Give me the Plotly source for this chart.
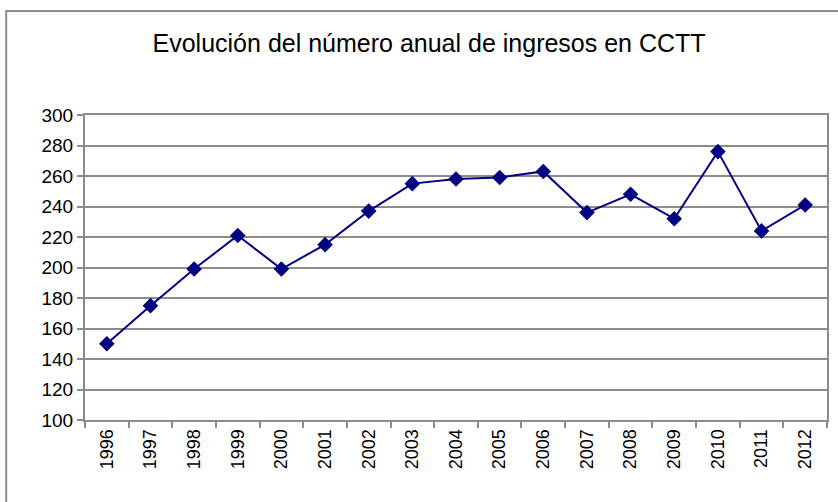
import plotly.graph_objects as go

years = ["1996", "1997", "1998", "1999", "2000", "2001", "2002", "2003", "2004",
         "2005", "2006", "2007", "2008", "2009", "2010", "2011", "2012"]
ingresos = [150, 175, 199, 221, 199, 215, 237, 255, 258, 259, 263, 236, 248, 232, 276, 224, 241]
y_ticks = [100, 120, 140, 160, 180, 200, 220, 240, 260, 280, 300]

W, H = 838, 502
L, R, T, B = 85, 9, 115, 82
pw, ph = W - L - R, H - T - B

def px(x):
    return (x - L) / pw

def py(y):
    return (H - B - y) / ph

fig = go.Figure()
fig.add_trace(go.Scatter(
    x=years, y=ingresos, mode="lines+markers",
    line=dict(color="#000080", width=2),
    marker=dict(symbol="diamond", size=12, color="#000080"),
    showlegend=False,
))

fig.update_layout(
    width=W, height=H,
    margin=dict(l=L, r=R, t=T, b=B),
    paper_bgcolor="white", plot_bgcolor="white",
    font=dict(family="Liberation Sans, Arial, sans-serif", size=16, color="black"),
    title=dict(text="Evolución del número anual de ingresos en CCTT",
               xref="paper", x=px(430), xanchor="center",
               y=1 - 43 / H, yanchor="middle",
               font=dict(size=25, color="black")),
    shapes=[dict(type="rect", xref="paper", yref="paper",
                 x0=px(6), x1=px(845), y0=py(510), y1=py(11),
                 line=dict(color="#8c8c8c", width=2), fillcolor="rgba(0,0,0,0)",
                 layer="below")],
)

fig.update_xaxes(
    type="category", tickangle=-90, tickson="boundaries",
    ticks="outside", ticklen=6, tickcolor="#8c8c8c", tickwidth=2,
    showline=True, linecolor="#8c8c8c", linewidth=2, mirror=True,
    showgrid=False, tickfont=dict(size=18), range=[-0.5, 16.5],
)
fig.update_yaxes(
    range=[100, 300], tickvals=y_ticks,
    ticks="outside", ticklen=6, tickcolor="#8c8c8c", tickwidth=2,
    showline=True, linecolor="#8c8c8c", linewidth=2, mirror=True,
    showgrid=True, gridcolor="#8c8c8c", gridwidth=2,
    zeroline=False, tickfont=dict(size=19),
)

fig.write_html("out.html", config={"displayModeBar": False},
               post_script="document.body.style.margin='0';")
